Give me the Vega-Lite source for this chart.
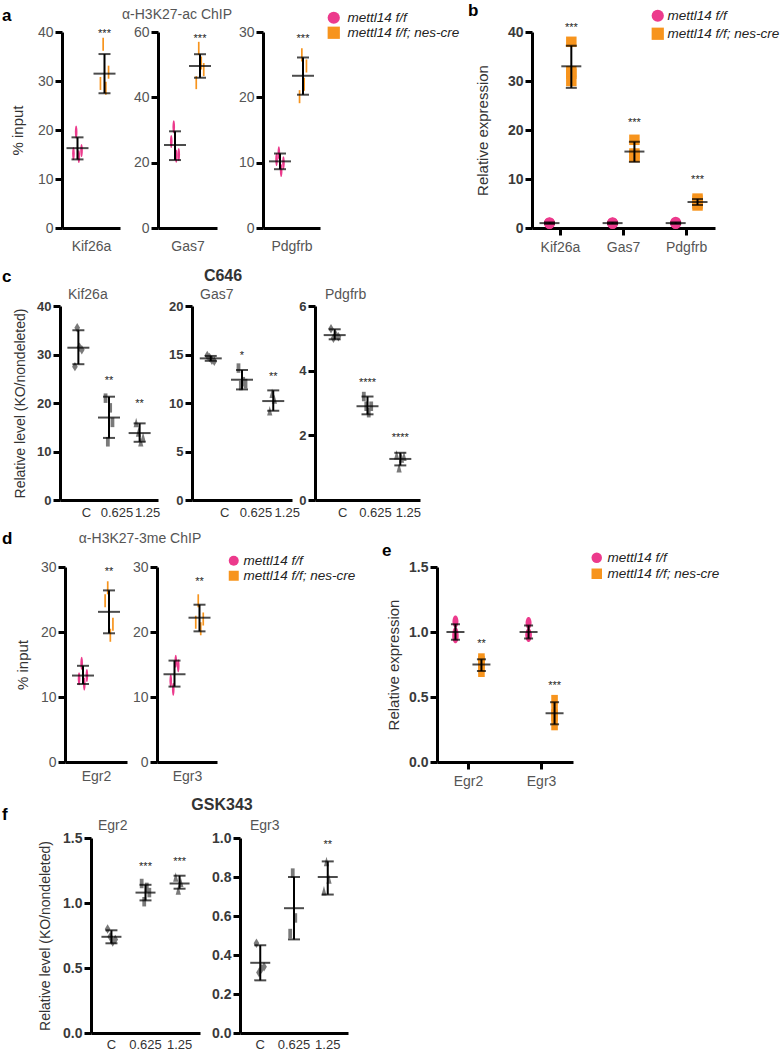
{
"$schema":"https://vega.github.io/schema/vega-lite/v6.json",
"padding":{"left":0,"top":1,"right":0,"bottom":0},
"background":"white",
"spacing":0,
"config":{
 "view":{"stroke":null},
 "font":"Liberation Sans",
 "axis":{"domainColor":"black","domainWidth":3,"tickColor":"black","tickWidth":3,"tickSize":7,"labelColor":"#555","labelFontSize":14,"labelFont":"Liberation Sans","titleFont":"Liberation Sans","titleFontSize":15,"titleFontWeight":"normal","titleColor":"#333","grid":false,"labelPadding":2},
 "title":{"font":"Liberation Sans","fontSize":14,"fontWeight":"normal","color":"#555","frame":"group","baseline":"alphabetic"},
 "legend":{"labelFont":"Liberation Sans"}
},
"resolve":{"scale":{"x":"independent","y":"independent","color":"independent","shape":"independent","xOffset":"independent"},"legend":{"color":"independent","shape":"independent"}},
"datasets":{
"pts":[
{"p":"a1","grp":"mettl14 f/f","r":1,"v":15.2},{"p":"a1","grp":"mettl14 f/f","r":2,"v":19.6},{"p":"a1","grp":"mettl14 f/f","r":3,"v":14.6},{"p":"a1","grp":"mettl14 f/f","r":4,"v":15.8},
{"p":"a1","grp":"mettl14 f/f; nes-cre","r":1,"v":29.5},{"p":"a1","grp":"mettl14 f/f; nes-cre","r":2,"v":37.5},{"p":"a1","grp":"mettl14 f/f; nes-cre","r":3,"v":28.5},{"p":"a1","grp":"mettl14 f/f; nes-cre","r":4,"v":31.8},
{"p":"a2","grp":"mettl14 f/f","r":1,"v":26.5},{"p":"a2","grp":"mettl14 f/f","r":2,"v":31.0},{"p":"a2","grp":"mettl14 f/f","r":3,"v":22.0},{"p":"a2","grp":"mettl14 f/f","r":4,"v":22.5},
{"p":"a2","grp":"mettl14 f/f; nes-cre","r":1,"v":44.5},{"p":"a2","grp":"mettl14 f/f; nes-cre","r":2,"v":55.0},{"p":"a2","grp":"mettl14 f/f; nes-cre","r":3,"v":50.5},{"p":"a2","grp":"mettl14 f/f; nes-cre","r":4,"v":48.5},
{"p":"a3","grp":"mettl14 f/f","r":1,"v":10.5},{"p":"a3","grp":"mettl14 f/f","r":2,"v":11.5},{"p":"a3","grp":"mettl14 f/f","r":3,"v":8.8},{"p":"a3","grp":"mettl14 f/f","r":4,"v":10.0},
{"p":"a3","grp":"mettl14 f/f; nes-cre","r":1,"v":20.1},{"p":"a3","grp":"mettl14 f/f; nes-cre","r":2,"v":26.5},{"p":"a3","grp":"mettl14 f/f; nes-cre","r":3,"v":22.0},{"p":"a3","grp":"mettl14 f/f; nes-cre","r":4,"v":24.8},
{"p":"b","g":"Kif26a","grp":"mettl14 f/f","r":1,"v":1.1},{"p":"b","g":"Kif26a","grp":"mettl14 f/f","r":2,"v":0.9},{"p":"b","g":"Kif26a","grp":"mettl14 f/f","r":3,"v":1.0},{"p":"b","g":"Kif26a","grp":"mettl14 f/f","r":4,"v":1.0},
{"p":"b","g":"Kif26a","grp":"mettl14 f/f; nes-cre","r":1,"v":38.0},{"p":"b","g":"Kif26a","grp":"mettl14 f/f; nes-cre","r":2,"v":31.5},{"p":"b","g":"Kif26a","grp":"mettl14 f/f; nes-cre","r":3,"v":30.0},{"p":"b","g":"Kif26a","grp":"mettl14 f/f; nes-cre","r":4,"v":32.0},
{"p":"b","g":"Gas7","grp":"mettl14 f/f","r":1,"v":1.1},{"p":"b","g":"Gas7","grp":"mettl14 f/f","r":2,"v":0.9},{"p":"b","g":"Gas7","grp":"mettl14 f/f","r":3,"v":1.0},{"p":"b","g":"Gas7","grp":"mettl14 f/f","r":4,"v":1.0},
{"p":"b","g":"Gas7","grp":"mettl14 f/f; nes-cre","r":1,"v":18.0},{"p":"b","g":"Gas7","grp":"mettl14 f/f; nes-cre","r":2,"v":14.5},{"p":"b","g":"Gas7","grp":"mettl14 f/f; nes-cre","r":3,"v":15.2},{"p":"b","g":"Gas7","grp":"mettl14 f/f; nes-cre","r":4,"v":14.8},
{"p":"b","g":"Pdgfrb","grp":"mettl14 f/f","r":1,"v":1.2},{"p":"b","g":"Pdgfrb","grp":"mettl14 f/f","r":2,"v":0.9},{"p":"b","g":"Pdgfrb","grp":"mettl14 f/f","r":3,"v":1.0},{"p":"b","g":"Pdgfrb","grp":"mettl14 f/f","r":4,"v":1.0},
{"p":"b","g":"Pdgfrb","grp":"mettl14 f/f; nes-cre","r":1,"v":6.0},{"p":"b","g":"Pdgfrb","grp":"mettl14 f/f; nes-cre","r":2,"v":5.6},{"p":"b","g":"Pdgfrb","grp":"mettl14 f/f; nes-cre","r":3,"v":4.6},{"p":"b","g":"Pdgfrb","grp":"mettl14 f/f; nes-cre","r":4,"v":5.0},
{"p":"c1","grp":"C","r":1,"v":27.5},{"p":"c1","grp":"C","r":2,"v":35.5},{"p":"c1","grp":"C","r":3,"v":31.5},{"p":"c1","grp":"C","r":4,"v":31.0},
{"p":"c1","grp":"0.625","r":1,"v":21.0},{"p":"c1","grp":"0.625","r":2,"v":12.0},{"p":"c1","grp":"0.625","r":3,"v":19.0},{"p":"c1","grp":"0.625","r":4,"v":16.0},
{"p":"c1","grp":"1.25","r":1,"v":16.0},{"p":"c1","grp":"1.25","r":2,"v":14.0},{"p":"c1","grp":"1.25","r":3,"v":12.0},{"p":"c1","grp":"1.25","r":4,"v":13.0},
{"p":"c2","grp":"C","r":1,"v":14.9},{"p":"c2","grp":"C","r":2,"v":14.7},{"p":"c2","grp":"C","r":3,"v":14.4},{"p":"c2","grp":"C","r":4,"v":14.3},
{"p":"c2","grp":"0.625","r":1,"v":13.6},{"p":"c2","grp":"0.625","r":2,"v":11.8},{"p":"c2","grp":"0.625","r":3,"v":12.2},{"p":"c2","grp":"0.625","r":4,"v":12.0},
{"p":"c2","grp":"1.25","r":1,"v":9.2},{"p":"c2","grp":"1.25","r":2,"v":11.0},{"p":"c2","grp":"1.25","r":3,"v":10.4},
{"p":"c3","grp":"C","r":1,"v":5.3},{"p":"c3","grp":"C","r":2,"v":5.0},{"p":"c3","grp":"C","r":3,"v":5.1},{"p":"c3","grp":"C","r":4,"v":5.05},
{"p":"c3","grp":"0.625","r":1,"v":3.2},{"p":"c3","grp":"0.625","r":2,"v":2.9},{"p":"c3","grp":"0.625","r":3,"v":2.7},{"p":"c3","grp":"0.625","r":4,"v":2.9},
{"p":"c3","grp":"1.25","r":1,"v":1.4},{"p":"c3","grp":"1.25","r":2,"v":1.0},{"p":"c3","grp":"1.25","r":3,"v":1.3},{"p":"c3","grp":"1.25","r":4,"v":1.35},
{"p":"d1","grp":"mettl14 f/f","r":1,"v":12.8},{"p":"d1","grp":"mettl14 f/f","r":2,"v":15.2},{"p":"d1","grp":"mettl14 f/f","r":3,"v":12.0},{"p":"d1","grp":"mettl14 f/f","r":4,"v":13.3},
{"p":"d1","grp":"mettl14 f/f; nes-cre","r":1,"v":24.8},{"p":"d1","grp":"mettl14 f/f; nes-cre","r":2,"v":26.8},{"p":"d1","grp":"mettl14 f/f; nes-cre","r":3,"v":19.5},{"p":"d1","grp":"mettl14 f/f; nes-cre","r":4,"v":21.2},
{"p":"d2","grp":"mettl14 f/f","r":1,"v":12.5},{"p":"d2","grp":"mettl14 f/f","r":2,"v":11.2},{"p":"d2","grp":"mettl14 f/f","r":3,"v":15.5},{"p":"d2","grp":"mettl14 f/f","r":4,"v":14.8},
{"p":"d2","grp":"mettl14 f/f; nes-cre","r":1,"v":21.5},{"p":"d2","grp":"mettl14 f/f; nes-cre","r":2,"v":24.8},{"p":"d2","grp":"mettl14 f/f; nes-cre","r":3,"v":20.5},{"p":"d2","grp":"mettl14 f/f; nes-cre","r":4,"v":22.0},
{"p":"e","g":"Egr2","grp":"mettl14 f/f","r":1,"v":1.08},{"p":"e","g":"Egr2","grp":"mettl14 f/f","r":2,"v":0.97},{"p":"e","g":"Egr2","grp":"mettl14 f/f","r":3,"v":0.96},{"p":"e","g":"Egr2","grp":"mettl14 f/f","r":4,"v":0.99},
{"p":"e","g":"Egr2","grp":"mettl14 f/f; nes-cre","r":1,"v":0.79},{"p":"e","g":"Egr2","grp":"mettl14 f/f; nes-cre","r":2,"v":0.77},{"p":"e","g":"Egr2","grp":"mettl14 f/f; nes-cre","r":3,"v":0.74},{"p":"e","g":"Egr2","grp":"mettl14 f/f; nes-cre","r":4,"v":0.70},
{"p":"e","g":"Egr3","grp":"mettl14 f/f","r":1,"v":1.07},{"p":"e","g":"Egr3","grp":"mettl14 f/f","r":2,"v":0.97},{"p":"e","g":"Egr3","grp":"mettl14 f/f","r":3,"v":0.98},{"p":"e","g":"Egr3","grp":"mettl14 f/f","r":4,"v":0.98},
{"p":"e","g":"Egr3","grp":"mettl14 f/f; nes-cre","r":1,"v":0.47},{"p":"e","g":"Egr3","grp":"mettl14 f/f; nes-cre","r":2,"v":0.38},{"p":"e","g":"Egr3","grp":"mettl14 f/f; nes-cre","r":3,"v":0.36},{"p":"e","g":"Egr3","grp":"mettl14 f/f; nes-cre","r":4,"v":0.29},
{"p":"f1","grp":"C","r":1,"v":0.80},{"p":"f1","grp":"C","r":2,"v":0.74},{"p":"f1","grp":"C","r":3,"v":0.70},{"p":"f1","grp":"C","r":4,"v":0.72},
{"p":"f1","grp":"0.625","r":1,"v":1.15},{"p":"f1","grp":"0.625","r":2,"v":1.01},{"p":"f1","grp":"0.625","r":3,"v":1.12},{"p":"f1","grp":"0.625","r":4,"v":1.08},
{"p":"f1","grp":"1.25","r":1,"v":1.20},{"p":"f1","grp":"1.25","r":2,"v":1.10},{"p":"f1","grp":"1.25","r":3,"v":1.16},
{"p":"f2","grp":"C","r":1,"v":0.46},{"p":"f2","grp":"C","r":2,"v":0.31},{"p":"f2","grp":"C","r":3,"v":0.33},{"p":"f2","grp":"C","r":4,"v":0.34},
{"p":"f2","grp":"0.625","r":1,"v":0.51},{"p":"f2","grp":"0.625","r":2,"v":0.82},{"p":"f2","grp":"0.625","r":3,"v":0.59},
{"p":"f2","grp":"1.25","r":1,"v":0.73},{"p":"f2","grp":"1.25","r":2,"v":0.88},{"p":"f2","grp":"1.25","r":3,"v":0.79}
],
"sum":[
{"p":"a1","grp":"mettl14 f/f","mean":16.3,"lo":14.0,"hi":18.5},
{"p":"a1","grp":"mettl14 f/f; nes-cre","mean":31.5,"lo":27.5,"hi":35.5,"sig":"***","sy":40.2},
{"p":"a2","grp":"mettl14 f/f","mean":25.4,"lo":20.8,"hi":29.6},
{"p":"a2","grp":"mettl14 f/f; nes-cre","mean":49.6,"lo":46.0,"hi":53.2,"sig":"***","sy":58.7},
{"p":"a3","grp":"mettl14 f/f","mean":10.2,"lo":9.0,"hi":11.4},
{"p":"a3","grp":"mettl14 f/f; nes-cre","mean":23.3,"lo":20.4,"hi":26.1,"sig":"***","sy":29.4},
{"p":"b","g":"Kif26a","grp":"mettl14 f/f","mean":1.0,"lo":0.85,"hi":1.15},
{"p":"b","g":"Kif26a","grp":"mettl14 f/f; nes-cre","mean":33.0,"lo":28.6,"hi":37.2,"sig":"***","sy":41.5},
{"p":"b","g":"Gas7","grp":"mettl14 f/f","mean":1.0,"lo":0.85,"hi":1.15},
{"p":"b","g":"Gas7","grp":"mettl14 f/f; nes-cre","mean":15.6,"lo":13.5,"hi":17.6,"sig":"***","sy":22.0},
{"p":"b","g":"Pdgfrb","grp":"mettl14 f/f","mean":1.0,"lo":0.85,"hi":1.15},
{"p":"b","g":"Pdgfrb","grp":"mettl14 f/f; nes-cre","mean":5.3,"lo":4.7,"hi":5.9,"sig":"***","sy":10.5},
{"p":"c1","grp":"C","mean":31.4,"lo":28.0,"hi":35.0},
{"p":"c1","grp":"0.625","mean":17.0,"lo":12.8,"hi":21.3,"sig":"**","sy":25.2},
{"p":"c1","grp":"1.25","mean":13.8,"lo":12.0,"hi":15.8,"sig":"**","sy":20.4},
{"p":"c2","grp":"C","mean":14.6,"lo":14.35,"hi":14.85},
{"p":"c2","grp":"0.625","mean":12.4,"lo":11.4,"hi":13.4,"sig":"*","sy":15.2},
{"p":"c2","grp":"1.25","mean":10.2,"lo":9.2,"hi":11.3,"sig":"**","sy":13.0},
{"p":"c3","grp":"C","mean":5.1,"lo":4.97,"hi":5.28},
{"p":"c3","grp":"0.625","mean":2.9,"lo":2.65,"hi":3.2,"sig":"****","sy":3.7},
{"p":"c3","grp":"1.25","mean":1.27,"lo":1.07,"hi":1.46,"sig":"****","sy":2.0},
{"p":"d1","grp":"mettl14 f/f","mean":13.3,"lo":12.0,"hi":14.8},
{"p":"d1","grp":"mettl14 f/f; nes-cre","mean":23.1,"lo":19.8,"hi":26.4,"sig":"**","sy":29.7},
{"p":"d2","grp":"mettl14 f/f","mean":13.5,"lo":11.6,"hi":15.6},
{"p":"d2","grp":"mettl14 f/f; nes-cre","mean":22.2,"lo":20.1,"hi":24.2,"sig":"**","sy":28.2},
{"p":"e","g":"Egr2","grp":"mettl14 f/f","mean":1.0,"lo":0.94,"hi":1.06},
{"p":"e","g":"Egr2","grp":"mettl14 f/f; nes-cre","mean":0.75,"lo":0.70,"hi":0.79,"sig":"**","sy":0.93},
{"p":"e","g":"Egr3","grp":"mettl14 f/f","mean":1.0,"lo":0.95,"hi":1.05},
{"p":"e","g":"Egr3","grp":"mettl14 f/f; nes-cre","mean":0.375,"lo":0.29,"hi":0.46,"sig":"***","sy":0.61},
{"p":"f1","grp":"C","mean":0.74,"lo":0.69,"hi":0.79},
{"p":"f1","grp":"0.625","mean":1.08,"lo":1.02,"hi":1.14,"sig":"***","sy":1.30},
{"p":"f1","grp":"1.25","mean":1.15,"lo":1.11,"hi":1.21,"sig":"***","sy":1.34},
{"p":"f2","grp":"C","mean":0.36,"lo":0.27,"hi":0.45},
{"p":"f2","grp":"0.625","mean":0.64,"lo":0.48,"hi":0.80},
{"p":"f2","grp":"1.25","mean":0.80,"lo":0.71,"hi":0.88,"sig":"**","sy":0.98}
]
},
"vconcat":[
{"hconcat":[
{"width":62,"height":235,"data":{"values":[{}]},"mark":{"type":"text","text":""},"title":{"text":"a","anchor":"start","dx":2,"offset":7,"fontSize":17,"fontWeight":"bold","color":"#000"}},
{"width":58,"height":196,
"encoding":{
"x":{"field":"grp","type":"nominal","scale":{"type":"band","domain":["mettl14 f/f","mettl14 f/f; nes-cre"],"paddingInner":0.6,"paddingOuter":0.374},"axis":{"title":"Kif26a","labels":false,"ticks":false,"tickSize":0,"titlePadding":11,"titleFontSize":14,"titleColor":"#555"}},
"y":{"field":"v","type":"quantitative","scale":{"domain":[0,40],"nice":false},"title":"% input","axis":{"values":[0,10,20,30,40],"titlePadding":12}}},
"layer":[
{"data":{"name":"pts"},"transform":[{"filter":"datum.p==='a1'&&datum.grp==='mettl14 f/f'"}],"mark":{"type":"point","filled":true,"opacity":1,"shape":"M0,-1A0.2,1 0 1,1 0,1A0.2,1 0 1,1 0,-1Z","size":170,"color":"#EC3A8C"},"encoding":{"xOffset":{"field":"r","type":"nominal","scale":{"type":"point","padding":0.5}}}},
{"data":{"name":"pts"},"transform":[{"filter":"datum.p==='a1'&&datum.grp!=='mettl14 f/f'"}],"mark":{"type":"point","filled":true,"opacity":1,"shape":"M-0.13,-1H0.13V1H-0.13Z","size":170,"color":"#F7941D"},"encoding":{"xOffset":{"field":"r","type":"nominal","scale":{"type":"point","padding":0.5}}}},
{"data":{"name":"sum"},"transform":[{"filter":"datum.p==='a1'"}],"mark":{"type":"rule","color":"black","strokeWidth":2},"encoding":{"y":{"field":"lo","type":"quantitative","scale":{"domain":[0,40],"nice":false},"title":"% input"},"y2":{"field":"hi"}}},
{"data":{"name":"sum"},"transform":[{"filter":"datum.p==='a1'"}],"mark":{"type":"tick","orient":"horizontal","size":22,"thickness":2,"color":"black"},"encoding":{"y":{"field":"mean","type":"quantitative","scale":{"domain":[0,40],"nice":false},"title":"% input"}}},
{"data":{"name":"sum"},"transform":[{"filter":"datum.p==='a1'"},{"fold":["lo","hi"]}],"mark":{"type":"tick","orient":"horizontal","size":12,"thickness":2,"color":"black"},"encoding":{"y":{"field":"value","type":"quantitative","scale":{"domain":[0,40],"nice":false},"title":"% input"}}},
{"data":{"name":"sum"},"transform":[{"filter":"datum.p==='a1'&&datum.sig"}],"mark":{"type":"text","fontSize":11,"color":"#222","baseline":"middle","dy":3},"encoding":{"y":{"field":"sy","type":"quantitative","scale":{"domain":[0,40],"nice":false},"title":"% input"},"text":{"field":"sig"}}}
]},
{"width":38,"height":1,"data":{"values":[{}]},"mark":{"type":"text","text":""},"title":{"text":"α-H3K27-ac ChIP","anchor":"middle","dx":38,"offset":5,"fontSize":14,"color":"#555"}},
{"width":59,"height":196,
"encoding":{
"x":{"field":"grp","type":"nominal","scale":{"type":"band","domain":["mettl14 f/f","mettl14 f/f; nes-cre"],"paddingInner":0.6,"paddingOuter":0.48},"axis":{"title":"Gas7","labels":false,"ticks":false,"tickSize":0,"titlePadding":11,"titleFontSize":14,"titleColor":"#555"}},
"y":{"field":"v","type":"quantitative","scale":{"domain":[0,60],"nice":false},"title":null,"axis":{"values":[0,20,40,60]}}},
"layer":[
{"data":{"name":"pts"},"transform":[{"filter":"datum.p==='a2'&&datum.grp==='mettl14 f/f'"}],"mark":{"type":"point","filled":true,"opacity":1,"shape":"M0,-1A0.2,1 0 1,1 0,1A0.2,1 0 1,1 0,-1Z","size":170,"color":"#EC3A8C"},"encoding":{"xOffset":{"field":"r","type":"nominal","scale":{"type":"point","padding":0.5}}}},
{"data":{"name":"pts"},"transform":[{"filter":"datum.p==='a2'&&datum.grp!=='mettl14 f/f'"}],"mark":{"type":"point","filled":true,"opacity":1,"shape":"M-0.13,-1H0.13V1H-0.13Z","size":170,"color":"#F7941D"},"encoding":{"xOffset":{"field":"r","type":"nominal","scale":{"type":"point","padding":0.5}}}},
{"data":{"name":"sum"},"transform":[{"filter":"datum.p==='a2'"}],"mark":{"type":"rule","color":"black","strokeWidth":2},"encoding":{"y":{"field":"lo","type":"quantitative","scale":{"domain":[0,60],"nice":false},"title":null},"y2":{"field":"hi"}}},
{"data":{"name":"sum"},"transform":[{"filter":"datum.p==='a2'"}],"mark":{"type":"tick","orient":"horizontal","size":22,"thickness":2,"color":"black"},"encoding":{"y":{"field":"mean","type":"quantitative","scale":{"domain":[0,60],"nice":false},"title":null}}},
{"data":{"name":"sum"},"transform":[{"filter":"datum.p==='a2'"},{"fold":["lo","hi"]}],"mark":{"type":"tick","orient":"horizontal","size":12,"thickness":2,"color":"black"},"encoding":{"y":{"field":"value","type":"quantitative","scale":{"domain":[0,60],"nice":false},"title":null}}},
{"data":{"name":"sum"},"transform":[{"filter":"datum.p==='a2'&&datum.sig"}],"mark":{"type":"text","fontSize":11,"color":"#222","baseline":"middle","dy":3},"encoding":{"y":{"field":"sy","type":"quantitative","scale":{"domain":[0,60],"nice":false},"title":null},"text":{"field":"sig"}}}
]},
{"width":46,"height":1,"data":{"values":[{}]},"mark":{"type":"text","text":""}},
{"width":57,"height":196,
"encoding":{
"x":{"field":"grp","type":"nominal","scale":{"type":"band","domain":["mettl14 f/f","mettl14 f/f; nes-cre"],"paddingInner":0.6,"paddingOuter":0.539},"axis":{"title":"Pdgfrb","labels":false,"ticks":false,"tickSize":0,"titlePadding":11,"titleFontSize":14,"titleColor":"#555"}},
"y":{"field":"v","type":"quantitative","scale":{"domain":[0,30],"nice":false},"title":null,"axis":{"values":[0,10,20,30]}}},
"layer":[
{"data":{"name":"pts"},"transform":[{"filter":"datum.p==='a3'&&datum.grp==='mettl14 f/f'"}],"mark":{"type":"point","filled":true,"opacity":1,"shape":"M0,-1A0.2,1 0 1,1 0,1A0.2,1 0 1,1 0,-1Z","size":170,"color":"#EC3A8C"},"encoding":{"xOffset":{"field":"r","type":"nominal","scale":{"type":"point","padding":0.5}}}},
{"data":{"name":"pts"},"transform":[{"filter":"datum.p==='a3'&&datum.grp!=='mettl14 f/f'"}],"mark":{"type":"point","filled":true,"opacity":1,"shape":"M-0.13,-1H0.13V1H-0.13Z","size":170,"color":"#F7941D"},"encoding":{"xOffset":{"field":"r","type":"nominal","scale":{"type":"point","padding":0.5}}}},
{"data":{"name":"sum"},"transform":[{"filter":"datum.p==='a3'"}],"mark":{"type":"rule","color":"black","strokeWidth":2},"encoding":{"y":{"field":"lo","type":"quantitative","scale":{"domain":[0,30],"nice":false},"title":null},"y2":{"field":"hi"}}},
{"data":{"name":"sum"},"transform":[{"filter":"datum.p==='a3'"}],"mark":{"type":"tick","orient":"horizontal","size":22,"thickness":2,"color":"black"},"encoding":{"y":{"field":"mean","type":"quantitative","scale":{"domain":[0,30],"nice":false},"title":null}}},
{"data":{"name":"sum"},"transform":[{"filter":"datum.p==='a3'"},{"fold":["lo","hi"]}],"mark":{"type":"tick","orient":"horizontal","size":12,"thickness":2,"color":"black"},"encoding":{"y":{"field":"value","type":"quantitative","scale":{"domain":[0,30],"nice":false},"title":null}}},
{"data":{"name":"sum"},"transform":[{"filter":"datum.p==='a3'&&datum.sig"}],"mark":{"type":"text","fontSize":11,"color":"#222","baseline":"middle","dy":3},"encoding":{"y":{"field":"sy","type":"quantitative","scale":{"domain":[0,30],"nice":false},"title":null},"text":{"field":"sig"}}},
{"data":{"name":"pts"},"transform":[{"filter":"datum.p==='a3'"}],"mark":{"type":"point","filled":true,"opacity":0},"encoding":{
 "color":{"field":"grp","type":"nominal","scale":{"domain":["mettl14 f/f","mettl14 f/f; nes-cre"],"range":["#EC3A8C","#F7941D"]},"legend":{"title":null,"orient":"none","legendX":64,"legendY":-21,"symbolSize":150,"symbolOpacity":1,"symbolStrokeWidth":0,"labelFontSize":13.5,"labelFontStyle":"italic","labelColor":"#222","labelOffset":7,"rowPadding":0}},
 "shape":{"field":"grp","type":"nominal","scale":{"domain":["mettl14 f/f","mettl14 f/f; nes-cre"],"range":["circle","square"]},"legend":{"title":null,"orient":"none","legendX":64,"legendY":-21,"symbolSize":150,"symbolOpacity":1,"symbolStrokeWidth":0,"labelFontSize":13.5,"labelFontStyle":"italic","labelColor":"#222","labelOffset":7,"rowPadding":0}}}}
]},
{"width":212,"height":1,"data":{"values":[{}]},"mark":{"type":"text","text":""},"title":{"text":"b","anchor":"start","dx":148,"offset":7,"fontSize":17,"fontWeight":"bold","color":"#000"}},
{"width":183,"height":196,
"encoding":{
"x":{"field":"g","type":"nominal","scale":{"type":"band","domain":["Kif26a","Gas7","Pdgfrb"],"paddingInner":0.1,"paddingOuter":0},"axis":{"title":null,"labelAngle":0,"labelPadding":5}},
"xOffset":{"field":"grp","type":"nominal","scale":{"type":"point","domain":["mettl14 f/f","mettl14 f/f; nes-cre"],"padding":0.8}},
"y":{"field":"v","type":"quantitative","scale":{"domain":[0,40],"nice":false},"title":"Relative expression","axis":{"values":[0,10,20,30,40],"titlePadding":17,"labelFontWeight":"bold","labelColor":"#3a3a3a"}}},
"layer":[
{"data":{"name":"pts"},"transform":[{"filter":"datum.p==='b'&&datum.grp==='mettl14 f/f'"}],"mark":{"type":"point","filled":true,"opacity":1,"shape":"circle","size":115,"color":"#EC3A8C"}},
{"data":{"name":"pts"},"transform":[{"filter":"datum.p==='b'&&datum.grp!=='mettl14 f/f'"}],"mark":{"type":"point","filled":true,"opacity":1,"shape":"square","size":110,"color":"#F7941D"}},
{"data":{"name":"sum"},"transform":[{"filter":"datum.p==='b'"}],"mark":{"type":"rule","color":"black","strokeWidth":2},"encoding":{"y":{"field":"lo","type":"quantitative","scale":{"domain":[0,40],"nice":false},"title":"Relative expression"},"y2":{"field":"hi"}}},
{"data":{"name":"sum"},"transform":[{"filter":"datum.p==='b'"}],"mark":{"type":"tick","orient":"horizontal","size":20,"thickness":2,"color":"black"},"encoding":{"y":{"field":"mean","type":"quantitative","scale":{"domain":[0,40],"nice":false},"title":"Relative expression"}}},
{"data":{"name":"sum"},"transform":[{"filter":"datum.p==='b'"},{"fold":["lo","hi"]}],"mark":{"type":"tick","orient":"horizontal","size":11,"thickness":2,"color":"black"},"encoding":{"y":{"field":"value","type":"quantitative","scale":{"domain":[0,40],"nice":false},"title":"Relative expression"}}},
{"data":{"name":"sum"},"transform":[{"filter":"datum.p==='b'&&datum.sig"}],"mark":{"type":"text","fontSize":11,"color":"#222","baseline":"middle","dy":3},"encoding":{"y":{"field":"sy","type":"quantitative","scale":{"domain":[0,40],"nice":false},"title":"Relative expression"},"text":{"field":"sig"}}},
{"data":{"name":"pts"},"transform":[{"filter":"datum.p==='b'"}],"mark":{"type":"point","filled":true,"opacity":0},"encoding":{
 "color":{"field":"grp","type":"nominal","scale":{"domain":["mettl14 f/f","mettl14 f/f; nes-cre"],"range":["#EC3A8C","#F7941D"]},"legend":{"title":null,"orient":"none","legendX":119,"legendY":-23,"symbolSize":150,"symbolOpacity":1,"symbolStrokeWidth":0,"labelFontSize":13.5,"labelFontStyle":"italic","labelColor":"#222","labelOffset":3,"rowPadding":3}},
 "shape":{"field":"grp","type":"nominal","scale":{"domain":["mettl14 f/f","mettl14 f/f; nes-cre"],"range":["circle","square"]},"legend":{"title":null,"orient":"none","legendX":119,"legendY":-23,"symbolSize":150,"symbolOpacity":1,"symbolStrokeWidth":0,"labelFontSize":13.5,"labelFontStyle":"italic","labelColor":"#222","labelOffset":3,"rowPadding":3}}}}
]}
],"spacing":0,"bounds":"flush","resolve":{"scale":{"x":"independent","y":"independent","color":"independent","shape":"independent","xOffset":"independent"},"legend":{"color":"independent","shape":"independent"}}},

{"hconcat":[
{"width":60,"height":224,"data":{"values":[{}]},"mark":{"type":"text","text":""},"title":{"text":"c","anchor":"start","dx":2,"offset":20,"fontSize":17,"fontWeight":"bold","color":"#000"}},
{"width":98,"height":194,"title":{"text":"Kif26a","anchor":"start","dx":8,"offset":-2},
"encoding":{
"x":{"field":"grp","type":"nominal","scale":{"type":"band","domain":["C","0.625","1.25"],"paddingInner":0.7,"paddingOuter":0.45},"axis":{"title":null,"ticks":false,"tickSize":0,"labelPadding":6,"labelOffset":8,"labelAngle":0,"labelFontSize":13,"labelColor":"#333"}},
"y":{"field":"v","type":"quantitative","scale":{"domain":[0,40],"nice":false},"title":"Relative level (KO/nondeleted)","axis":{"values":[0,10,20,30,40],"titlePadding":9,"titleFontSize":14,"labelFontSize":13,"labelFontWeight":"bold","labelColor":"#3a3a3a"}}},
"layer":[
{"data":{"name":"pts"},"transform":[{"filter":"datum.p==='c1'"}],"mark":{"type":"point","filled":true,"opacity":1,"size":90,"color":"#7A7A7A"},"encoding":{"xOffset":{"field":"r","type":"nominal","scale":{"type":"point","padding":0.5}},"shape":{"field":"grp","type":"nominal","scale":{"domain":["C","0.625","1.25"],"range":["M0,-1L0.6,0L0,1L-0.6,0Z","M-0.4,-1H0.4V1H-0.4Z","M0,-1L0.55,1H-0.55Z"]},"legend":null}}},
{"data":{"name":"sum"},"transform":[{"filter":"datum.p==='c1'"}],"mark":{"type":"rule","color":"black","strokeWidth":2},"encoding":{"y":{"field":"lo","type":"quantitative","scale":{"domain":[0,40],"nice":false},"title":"Relative level (KO/nondeleted)"},"y2":{"field":"hi"}}},
{"data":{"name":"sum"},"transform":[{"filter":"datum.p==='c1'"}],"mark":{"type":"tick","orient":"horizontal","size":22,"thickness":2,"color":"black"},"encoding":{"y":{"field":"mean","type":"quantitative","scale":{"domain":[0,40],"nice":false},"title":"Relative level (KO/nondeleted)"}}},
{"data":{"name":"sum"},"transform":[{"filter":"datum.p==='c1'"},{"fold":["lo","hi"]}],"mark":{"type":"tick","orient":"horizontal","size":12,"thickness":2,"color":"black"},"encoding":{"y":{"field":"value","type":"quantitative","scale":{"domain":[0,40],"nice":false},"title":"Relative level (KO/nondeleted)"}}},
{"data":{"name":"sum"},"transform":[{"filter":"datum.p==='c1'&&datum.sig"}],"mark":{"type":"text","fontSize":11,"color":"#222","baseline":"middle","dy":3},"encoding":{"y":{"field":"sy","type":"quantitative","scale":{"domain":[0,40],"nice":false},"title":"Relative level (KO/nondeleted)"},"text":{"field":"sig"}}}
]},
{"width":34,"height":1,"data":{"values":[{}]},"mark":{"type":"text","text":""},"title":{"text":"C646","anchor":"middle","dx":48,"offset":17,"fontSize":16,"fontWeight":"bold","color":"#333"}},
{"width":100,"height":194,"title":{"text":"Gas7","anchor":"start","dx":8,"offset":-2},
"encoding":{
"x":{"field":"grp","type":"nominal","scale":{"type":"band","domain":["C","0.625","1.25"],"paddingInner":0.7,"paddingOuter":0.45},"axis":{"title":null,"ticks":false,"tickSize":0,"labelPadding":6,"labelOffset":14,"labelAngle":0,"labelFontSize":13,"labelColor":"#333"}},
"y":{"field":"v","type":"quantitative","scale":{"domain":[0,20],"nice":false},"title":null,"axis":{"values":[0,5,10,15,20],"labelFontSize":13,"labelFontWeight":"bold","labelColor":"#3a3a3a"}}},
"layer":[
{"data":{"name":"pts"},"transform":[{"filter":"datum.p==='c2'"}],"mark":{"type":"point","filled":true,"opacity":1,"size":90,"color":"#7A7A7A"},"encoding":{"xOffset":{"field":"r","type":"nominal","scale":{"type":"point","padding":0.5}},"shape":{"field":"grp","type":"nominal","scale":{"domain":["C","0.625","1.25"],"range":["M0,-1L0.6,0L0,1L-0.6,0Z","M-0.4,-1H0.4V1H-0.4Z","M0,-1L0.55,1H-0.55Z"]},"legend":null}}},
{"data":{"name":"sum"},"transform":[{"filter":"datum.p==='c2'"}],"mark":{"type":"rule","color":"black","strokeWidth":2},"encoding":{"y":{"field":"lo","type":"quantitative","scale":{"domain":[0,20],"nice":false},"title":null},"y2":{"field":"hi"}}},
{"data":{"name":"sum"},"transform":[{"filter":"datum.p==='c2'"}],"mark":{"type":"tick","orient":"horizontal","size":22,"thickness":2,"color":"black"},"encoding":{"y":{"field":"mean","type":"quantitative","scale":{"domain":[0,20],"nice":false},"title":null}}},
{"data":{"name":"sum"},"transform":[{"filter":"datum.p==='c2'"},{"fold":["lo","hi"]}],"mark":{"type":"tick","orient":"horizontal","size":12,"thickness":2,"color":"black"},"encoding":{"y":{"field":"value","type":"quantitative","scale":{"domain":[0,20],"nice":false},"title":null}}},
{"data":{"name":"sum"},"transform":[{"filter":"datum.p==='c2'&&datum.sig"}],"mark":{"type":"text","fontSize":11,"color":"#222","baseline":"middle","dy":3},"encoding":{"y":{"field":"sy","type":"quantitative","scale":{"domain":[0,20],"nice":false},"title":null},"text":{"field":"sig"}}}
]},
{"width":23,"height":1,"data":{"values":[{}]},"mark":{"type":"text","text":""}},
{"width":105,"height":194,"title":{"text":"Pdgfrb","anchor":"start","dx":10,"offset":-2},
"encoding":{
"x":{"field":"grp","type":"nominal","scale":{"type":"band","domain":["C","0.625","1.25"],"paddingInner":0.7,"paddingOuter":0.45},"axis":{"title":null,"ticks":false,"tickSize":0,"labelPadding":6,"labelOffset":8,"labelAngle":0,"labelFontSize":13,"labelColor":"#333"}},
"y":{"field":"v","type":"quantitative","scale":{"domain":[0,6],"nice":false},"title":null,"axis":{"values":[0,2,4,6],"labelFontSize":13,"labelFontWeight":"bold","labelColor":"#3a3a3a"}}},
"layer":[
{"data":{"name":"pts"},"transform":[{"filter":"datum.p==='c3'"}],"mark":{"type":"point","filled":true,"opacity":1,"size":90,"color":"#7A7A7A"},"encoding":{"xOffset":{"field":"r","type":"nominal","scale":{"type":"point","padding":0.5}},"shape":{"field":"grp","type":"nominal","scale":{"domain":["C","0.625","1.25"],"range":["M0,-1L0.6,0L0,1L-0.6,0Z","M-0.4,-1H0.4V1H-0.4Z","M0,-1L0.55,1H-0.55Z"]},"legend":null}}},
{"data":{"name":"sum"},"transform":[{"filter":"datum.p==='c3'"}],"mark":{"type":"rule","color":"black","strokeWidth":2},"encoding":{"y":{"field":"lo","type":"quantitative","scale":{"domain":[0,6],"nice":false},"title":null},"y2":{"field":"hi"}}},
{"data":{"name":"sum"},"transform":[{"filter":"datum.p==='c3'"}],"mark":{"type":"tick","orient":"horizontal","size":22,"thickness":2,"color":"black"},"encoding":{"y":{"field":"mean","type":"quantitative","scale":{"domain":[0,6],"nice":false},"title":null}}},
{"data":{"name":"sum"},"transform":[{"filter":"datum.p==='c3'"},{"fold":["lo","hi"]}],"mark":{"type":"tick","orient":"horizontal","size":12,"thickness":2,"color":"black"},"encoding":{"y":{"field":"value","type":"quantitative","scale":{"domain":[0,6],"nice":false},"title":null}}},
{"data":{"name":"sum"},"transform":[{"filter":"datum.p==='c3'&&datum.sig"}],"mark":{"type":"text","fontSize":11,"color":"#222","baseline":"middle","dy":3},"encoding":{"y":{"field":"sy","type":"quantitative","scale":{"domain":[0,6],"nice":false},"title":null},"text":{"field":"sig"}}}
]}
],"spacing":0,"bounds":"flush","resolve":{"scale":{"x":"independent","y":"independent","color":"independent","shape":"independent","xOffset":"independent"},"legend":{"color":"independent","shape":"independent"}}},

{"hconcat":[
{"width":65,"height":229,"data":{"values":[{}]},"mark":{"type":"text","text":""},"title":{"text":"d","anchor":"start","dx":2,"offset":19,"fontSize":17,"fontWeight":"bold","color":"#000"}},
{"width":62,"height":195,
"encoding":{
"x":{"field":"grp","type":"nominal","scale":{"type":"band","domain":["mettl14 f/f","mettl14 f/f; nes-cre"],"paddingInner":0.6,"paddingOuter":0.49},"axis":{"title":"Egr2","labels":false,"ticks":false,"tickSize":0,"titlePadding":7,"titleFontSize":14,"titleColor":"#555"}},
"y":{"field":"v","type":"quantitative","scale":{"domain":[0,30],"nice":false},"title":"% input","axis":{"values":[0,10,20,30],"titlePadding":10}}},
"layer":[
{"data":{"name":"pts"},"transform":[{"filter":"datum.p==='d1'&&datum.grp==='mettl14 f/f'"}],"mark":{"type":"point","filled":true,"opacity":1,"shape":"M0,-1A0.2,1 0 1,1 0,1A0.2,1 0 1,1 0,-1Z","size":170,"color":"#EC3A8C"},"encoding":{"xOffset":{"field":"r","type":"nominal","scale":{"type":"point","padding":0.5}}}},
{"data":{"name":"pts"},"transform":[{"filter":"datum.p==='d1'&&datum.grp!=='mettl14 f/f'"}],"mark":{"type":"point","filled":true,"opacity":1,"shape":"M-0.13,-1H0.13V1H-0.13Z","size":170,"color":"#F7941D"},"encoding":{"xOffset":{"field":"r","type":"nominal","scale":{"type":"point","padding":0.5}}}},
{"data":{"name":"sum"},"transform":[{"filter":"datum.p==='d1'"}],"mark":{"type":"rule","color":"black","strokeWidth":2},"encoding":{"y":{"field":"lo","type":"quantitative","scale":{"domain":[0,30],"nice":false},"title":"% input"},"y2":{"field":"hi"}}},
{"data":{"name":"sum"},"transform":[{"filter":"datum.p==='d1'"}],"mark":{"type":"tick","orient":"horizontal","size":22,"thickness":2,"color":"black"},"encoding":{"y":{"field":"mean","type":"quantitative","scale":{"domain":[0,30],"nice":false},"title":"% input"}}},
{"data":{"name":"sum"},"transform":[{"filter":"datum.p==='d1'"},{"fold":["lo","hi"]}],"mark":{"type":"tick","orient":"horizontal","size":12,"thickness":2,"color":"black"},"encoding":{"y":{"field":"value","type":"quantitative","scale":{"domain":[0,30],"nice":false},"title":"% input"}}},
{"data":{"name":"sum"},"transform":[{"filter":"datum.p==='d1'&&datum.sig"}],"mark":{"type":"text","fontSize":11,"color":"#222","baseline":"middle","dy":3},"encoding":{"y":{"field":"sy","type":"quantitative","scale":{"domain":[0,30],"nice":false},"title":"% input"},"text":{"field":"sig"}}}
]},
{"width":30,"height":1,"data":{"values":[{}]},"mark":{"type":"text","text":""},"title":{"text":"α-H3K27-3me ChIP","anchor":"middle","dx":-2,"offset":16,"fontSize":14,"color":"#555"}},
{"width":60,"height":195,
"encoding":{
"x":{"field":"grp","type":"nominal","scale":{"type":"band","domain":["mettl14 f/f","mettl14 f/f; nes-cre"],"paddingInner":0.6,"paddingOuter":0.5},"axis":{"title":"Egr3","labels":false,"ticks":false,"tickSize":0,"titlePadding":7,"titleFontSize":14,"titleColor":"#555"}},
"y":{"field":"v","type":"quantitative","scale":{"domain":[0,30],"nice":false},"title":null,"axis":{"values":[0,10,20,30]}}},
"layer":[
{"data":{"name":"pts"},"transform":[{"filter":"datum.p==='d2'&&datum.grp==='mettl14 f/f'"}],"mark":{"type":"point","filled":true,"opacity":1,"shape":"M0,-1A0.2,1 0 1,1 0,1A0.2,1 0 1,1 0,-1Z","size":170,"color":"#EC3A8C"},"encoding":{"xOffset":{"field":"r","type":"nominal","scale":{"type":"point","padding":0.5}}}},
{"data":{"name":"pts"},"transform":[{"filter":"datum.p==='d2'&&datum.grp!=='mettl14 f/f'"}],"mark":{"type":"point","filled":true,"opacity":1,"shape":"M-0.13,-1H0.13V1H-0.13Z","size":170,"color":"#F7941D"},"encoding":{"xOffset":{"field":"r","type":"nominal","scale":{"type":"point","padding":0.5}}}},
{"data":{"name":"sum"},"transform":[{"filter":"datum.p==='d2'"}],"mark":{"type":"rule","color":"black","strokeWidth":2},"encoding":{"y":{"field":"lo","type":"quantitative","scale":{"domain":[0,30],"nice":false},"title":null},"y2":{"field":"hi"}}},
{"data":{"name":"sum"},"transform":[{"filter":"datum.p==='d2'"}],"mark":{"type":"tick","orient":"horizontal","size":22,"thickness":2,"color":"black"},"encoding":{"y":{"field":"mean","type":"quantitative","scale":{"domain":[0,30],"nice":false},"title":null}}},
{"data":{"name":"sum"},"transform":[{"filter":"datum.p==='d2'"},{"fold":["lo","hi"]}],"mark":{"type":"tick","orient":"horizontal","size":12,"thickness":2,"color":"black"},"encoding":{"y":{"field":"value","type":"quantitative","scale":{"domain":[0,30],"nice":false},"title":null}}},
{"data":{"name":"sum"},"transform":[{"filter":"datum.p==='d2'&&datum.sig"}],"mark":{"type":"text","fontSize":11,"color":"#222","baseline":"middle","dy":3},"encoding":{"y":{"field":"sy","type":"quantitative","scale":{"domain":[0,30],"nice":false},"title":null},"text":{"field":"sig"}}},
{"data":{"name":"pts"},"transform":[{"filter":"datum.p==='d2'"}],"mark":{"type":"point","filled":true,"opacity":0},"encoding":{
 "color":{"field":"grp","type":"nominal","scale":{"domain":["mettl14 f/f","mettl14 f/f; nes-cre"],"range":["#EC3A8C","#F7941D"]},"legend":{"title":null,"orient":"none","legendX":70,"legendY":-13,"symbolSize":100,"symbolOpacity":1,"symbolStrokeWidth":0,"labelFontSize":13.5,"labelFontStyle":"italic","labelColor":"#222","labelOffset":3,"rowPadding":0}},
 "shape":{"field":"grp","type":"nominal","scale":{"domain":["mettl14 f/f","mettl14 f/f; nes-cre"],"range":["circle","square"]},"legend":{"title":null,"orient":"none","legendX":70,"legendY":-13,"symbolSize":100,"symbolOpacity":1,"symbolStrokeWidth":0,"labelFontSize":13.5,"labelFontStyle":"italic","labelColor":"#222","labelOffset":3,"rowPadding":0}}}}
]},
{"width":220,"height":1,"data":{"values":[{}]},"mark":{"type":"text","text":""},"title":{"text":"e","anchor":"start","dx":165,"offset":2,"fontSize":17,"fontWeight":"bold","color":"#000"}},
{"width":136,"height":195,
"encoding":{
"x":{"field":"g","type":"nominal","scale":{"type":"band","domain":["Egr2","Egr3"],"paddingInner":0.14,"paddingOuter":0},"axis":{"title":null,"labelAngle":0,"labelPadding":5}},
"xOffset":{"field":"grp","type":"nominal","scale":{"type":"point","domain":["mettl14 f/f","mettl14 f/f; nes-cre"],"padding":0.71}},
"y":{"field":"v","type":"quantitative","scale":{"domain":[0,1.5],"nice":false},"title":"Relative expression","axis":{"values":[0,0.5,1,1.5],"format":".1f","titlePadding":7,"labelFontWeight":"bold","labelColor":"#3a3a3a"}}},
"layer":[
{"data":{"name":"pts"},"transform":[{"filter":"datum.p==='e'&&datum.grp==='mettl14 f/f'"}],"mark":{"type":"point","filled":true,"opacity":1,"shape":"M0,-1A0.5,1 0 1,1 0,1A0.5,1 0 1,1 0,-1Z","size":144,"color":"#EC3A8C"}},
{"data":{"name":"pts"},"transform":[{"filter":"datum.p==='e'&&datum.grp!=='mettl14 f/f'"}],"mark":{"type":"point","filled":true,"opacity":1,"shape":"M-0.55,-1H0.55V1H-0.55Z","size":144,"color":"#F7941D"}},
{"data":{"name":"sum"},"transform":[{"filter":"datum.p==='e'"}],"mark":{"type":"rule","color":"black","strokeWidth":2},"encoding":{"y":{"field":"lo","type":"quantitative","scale":{"domain":[0,1.5],"nice":false},"title":"Relative expression"},"y2":{"field":"hi"}}},
{"data":{"name":"sum"},"transform":[{"filter":"datum.p==='e'"}],"mark":{"type":"tick","orient":"horizontal","size":18,"thickness":2,"color":"black"},"encoding":{"y":{"field":"mean","type":"quantitative","scale":{"domain":[0,1.5],"nice":false},"title":"Relative expression"}}},
{"data":{"name":"sum"},"transform":[{"filter":"datum.p==='e'"},{"fold":["lo","hi"]}],"mark":{"type":"tick","orient":"horizontal","size":9,"thickness":2,"color":"black"},"encoding":{"y":{"field":"value","type":"quantitative","scale":{"domain":[0,1.5],"nice":false},"title":"Relative expression"}}},
{"data":{"name":"sum"},"transform":[{"filter":"datum.p==='e'&&datum.sig"}],"mark":{"type":"text","fontSize":11,"color":"#222","baseline":"middle","dy":3},"encoding":{"y":{"field":"sy","type":"quantitative","scale":{"domain":[0,1.5],"nice":false},"title":"Relative expression"},"text":{"field":"sig"}}},
{"data":{"name":"pts"},"transform":[{"filter":"datum.p==='e'"}],"mark":{"type":"point","filled":true,"opacity":0},"encoding":{
 "color":{"field":"grp","type":"nominal","scale":{"domain":["mettl14 f/f","mettl14 f/f; nes-cre"],"range":["#EC3A8C","#F7941D"]},"legend":{"title":null,"orient":"none","legendX":153,"legendY":-16,"symbolSize":110,"symbolOpacity":1,"symbolStrokeWidth":0,"labelFontSize":13.5,"labelFontStyle":"italic","labelColor":"#222","labelOffset":4,"rowPadding":1}},
 "shape":{"field":"grp","type":"nominal","scale":{"domain":["mettl14 f/f","mettl14 f/f; nes-cre"],"range":["circle","square"]},"legend":{"title":null,"orient":"none","legendX":153,"legendY":-16,"symbolSize":110,"symbolOpacity":1,"symbolStrokeWidth":0,"labelFontSize":13.5,"labelFontStyle":"italic","labelColor":"#222","labelOffset":4,"rowPadding":1}}}}
]}
],"spacing":0,"bounds":"flush","resolve":{"scale":{"x":"independent","y":"independent","color":"independent","shape":"independent","xOffset":"independent"},"legend":{"color":"independent","shape":"independent"}}},

{"hconcat":[
{"width":91,"height":200,"data":{"values":[{}]},"mark":{"type":"text","text":""},"title":{"text":"f","anchor":"start","dx":2,"offset":14,"fontSize":17,"fontWeight":"bold","color":"#000"}},
{"width":109,"height":195,"title":{"text":"Egr2","anchor":"start","dx":7,"offset":-2},
"encoding":{
"x":{"field":"grp","type":"nominal","scale":{"type":"band","domain":["C","0.625","1.25"],"paddingInner":0.7,"paddingOuter":0.45},"axis":{"title":null,"ticks":false,"tickSize":0,"labelPadding":5,"labelAngle":0,"labelFontSize":13,"labelColor":"#333"}},
"y":{"field":"v","type":"quantitative","scale":{"domain":[0,1.5],"nice":false},"title":"Relative level (KO/nondeleted)","axis":{"values":[0,0.5,1,1.5],"format":".1f","titlePadding":10,"titleFontSize":14,"labelFontWeight":"bold","labelColor":"#3a3a3a"}}},
"layer":[
{"data":{"name":"pts"},"transform":[{"filter":"datum.p==='f1'"}],"mark":{"type":"point","filled":true,"opacity":1,"size":90,"color":"#7A7A7A"},"encoding":{"xOffset":{"field":"r","type":"nominal","scale":{"type":"point","padding":0.5}},"shape":{"field":"grp","type":"nominal","scale":{"domain":["C","0.625","1.25"],"range":["M0,-1L0.6,0L0,1L-0.6,0Z","M-0.4,-1H0.4V1H-0.4Z","M0,-1L0.55,1H-0.55Z"]},"legend":null}}},
{"data":{"name":"sum"},"transform":[{"filter":"datum.p==='f1'"}],"mark":{"type":"rule","color":"black","strokeWidth":2},"encoding":{"y":{"field":"lo","type":"quantitative","scale":{"domain":[0,1.5],"nice":false},"title":"Relative level (KO/nondeleted)"},"y2":{"field":"hi"}}},
{"data":{"name":"sum"},"transform":[{"filter":"datum.p==='f1'"}],"mark":{"type":"tick","orient":"horizontal","size":20,"thickness":2,"color":"black"},"encoding":{"y":{"field":"mean","type":"quantitative","scale":{"domain":[0,1.5],"nice":false},"title":"Relative level (KO/nondeleted)"}}},
{"data":{"name":"sum"},"transform":[{"filter":"datum.p==='f1'"},{"fold":["lo","hi"]}],"mark":{"type":"tick","orient":"horizontal","size":12,"thickness":2,"color":"black"},"encoding":{"y":{"field":"value","type":"quantitative","scale":{"domain":[0,1.5],"nice":false},"title":"Relative level (KO/nondeleted)"}}},
{"data":{"name":"sum"},"transform":[{"filter":"datum.p==='f1'&&datum.sig"}],"mark":{"type":"text","fontSize":11,"color":"#222","baseline":"middle","dy":3},"encoding":{"y":{"field":"sy","type":"quantitative","scale":{"domain":[0,1.5],"nice":false},"title":"Relative level (KO/nondeleted)"},"text":{"field":"sig"}}}
]},
{"width":40,"height":1,"data":{"values":[{}]},"mark":{"type":"text","text":""},"title":{"text":"GSK343","anchor":"middle","dx":2,"offset":20,"fontSize":16,"fontWeight":"bold","color":"#333"}},
{"width":108,"height":195,"title":{"text":"Egr3","anchor":"start","dx":10,"offset":-2},
"encoding":{
"x":{"field":"grp","type":"nominal","scale":{"type":"band","domain":["C","0.625","1.25"],"paddingInner":0.7,"paddingOuter":0.45},"axis":{"title":null,"ticks":false,"tickSize":0,"labelPadding":5,"labelAngle":0,"labelFontSize":13,"labelColor":"#333"}},
"y":{"field":"v","type":"quantitative","scale":{"domain":[0,1],"nice":false},"title":null,"axis":{"values":[0,0.2,0.4,0.6,0.8,1],"format":".1f","labelFontWeight":"bold","labelColor":"#3a3a3a"}}},
"layer":[
{"data":{"name":"pts"},"transform":[{"filter":"datum.p==='f2'"}],"mark":{"type":"point","filled":true,"opacity":1,"size":90,"color":"#7A7A7A"},"encoding":{"xOffset":{"field":"r","type":"nominal","scale":{"type":"point","padding":0.5}},"shape":{"field":"grp","type":"nominal","scale":{"domain":["C","0.625","1.25"],"range":["M0,-1L0.6,0L0,1L-0.6,0Z","M-0.4,-1H0.4V1H-0.4Z","M0,-1L0.55,1H-0.55Z"]},"legend":null}}},
{"data":{"name":"sum"},"transform":[{"filter":"datum.p==='f2'"}],"mark":{"type":"rule","color":"black","strokeWidth":2},"encoding":{"y":{"field":"lo","type":"quantitative","scale":{"domain":[0,1],"nice":false},"title":null},"y2":{"field":"hi"}}},
{"data":{"name":"sum"},"transform":[{"filter":"datum.p==='f2'"}],"mark":{"type":"tick","orient":"horizontal","size":20,"thickness":2,"color":"black"},"encoding":{"y":{"field":"mean","type":"quantitative","scale":{"domain":[0,1],"nice":false},"title":null}}},
{"data":{"name":"sum"},"transform":[{"filter":"datum.p==='f2'"},{"fold":["lo","hi"]}],"mark":{"type":"tick","orient":"horizontal","size":12,"thickness":2,"color":"black"},"encoding":{"y":{"field":"value","type":"quantitative","scale":{"domain":[0,1],"nice":false},"title":null}}},
{"data":{"name":"sum"},"transform":[{"filter":"datum.p==='f2'&&datum.sig"}],"mark":{"type":"text","fontSize":11,"color":"#222","baseline":"middle","dy":3},"encoding":{"y":{"field":"sy","type":"quantitative","scale":{"domain":[0,1],"nice":false},"title":null},"text":{"field":"sig"}}}
]}
],"spacing":0,"bounds":"flush","resolve":{"scale":{"x":"independent","y":"independent","color":"independent","shape":"independent","xOffset":"independent"},"legend":{"color":"independent","shape":"independent"}}}
]
}
